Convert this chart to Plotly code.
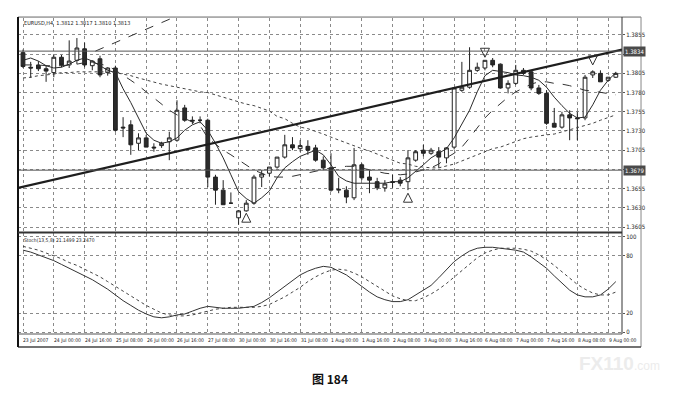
import plotly.graph_objects as go

bars = list(range(78))

open_ = [1.3832,1.3813,1.3816,1.3811,1.3806,1.3826,1.3816,1.3822,1.3837,1.3815,
         1.3824,1.3806,1.3812,1.3735,1.3738,1.3714,1.3721,1.3709,1.3711,1.3716,
         1.3718,1.3760,1.3744,1.3744,1.3744,1.3670,1.3653,1.3636,1.3617,1.3626,
         1.3636,1.3670,1.3675,1.3683,1.3696,1.3712,1.3707,1.3710,1.3708,1.3692,
         1.3682,1.3653,1.3653,1.3643,1.3686,1.3670,1.3664,1.3656,1.3664,1.3666,
         1.3664,1.3692,1.3705,1.3701,1.3703,1.3695,1.3709,1.3783,1.3787,1.3809,
         1.3812,1.3822,1.3817,1.3786,1.3792,1.3809,1.3807,1.3786,1.3779,1.3740,
         1.3735,1.3751,1.3747,1.3747,1.3803,1.3805,1.3796,1.3800]
high = [1.3836,1.3820,1.3821,1.3815,1.3829,1.3829,1.3848,1.3851,1.3845,1.3822,
        1.3828,1.3813,1.3815,1.3748,1.3744,1.3727,1.3725,1.3714,1.3716,1.3729,
        1.3770,1.3764,1.3749,1.3749,1.3746,1.3673,1.3666,1.3650,1.3627,1.3640,
        1.3673,1.3679,1.3683,1.3696,1.3725,1.3722,1.3718,1.3718,1.3712,1.3697,
        1.3701,1.3669,1.3658,1.3708,1.3688,1.3679,1.3669,1.3666,1.3673,1.3670,
        1.3705,1.3705,1.3712,1.3708,1.3709,1.3709,1.3787,1.3820,1.3839,1.3819,
        1.3822,1.3825,1.3818,1.3796,1.3816,1.3812,1.3809,1.3790,1.3783,1.3760,
        1.3755,1.3757,1.3755,1.3803,1.3809,1.3809,1.3800,1.3807]
low = [1.3812,1.3799,1.3808,1.3794,1.3800,1.3813,1.3812,1.3817,1.3813,1.3809,
       1.3800,1.3802,1.3729,1.3722,1.3699,1.3705,1.3709,1.3703,1.3708,1.3692,
       1.3716,1.3742,1.3739,1.3740,1.3657,1.3634,1.3634,1.3635,1.3608,1.3625,
       1.3634,1.3657,1.3671,1.3681,1.3694,1.3705,1.3703,1.3699,1.3690,1.3679,
       1.3651,1.3649,1.3636,1.3640,1.3666,1.3649,1.3653,1.3651,1.3656,1.3658,
       1.3653,1.3690,1.3697,1.3699,1.3682,1.3688,1.3706,1.3781,1.3785,1.3807,
       1.3809,1.3813,1.3785,1.3779,1.3790,1.3803,1.3783,1.3777,1.3738,1.3735,
       1.3733,1.3718,1.3718,1.3744,1.3799,1.3794,1.3794,1.3799]
close = [1.3814,1.3812,1.3811,1.3808,1.3826,1.3816,1.3821,1.3838,1.3816,1.3821,
         1.3803,1.3812,1.3731,1.3734,1.3712,1.3721,1.3709,1.3708,1.3714,1.3721,
         1.3757,1.3744,1.3743,1.3744,1.3670,1.3653,1.3634,1.3636,1.3626,1.3636,
         1.3670,1.3674,1.3683,1.3696,1.3712,1.3708,1.3711,1.3705,1.3692,1.3682,
         1.3653,1.3654,1.3644,1.3686,1.3669,1.3666,1.3656,1.3661,1.3663,1.3662,
         1.3695,1.3703,1.3701,1.3705,1.3696,1.3708,1.3786,1.3787,1.3809,1.3813,
         1.3822,1.3816,1.3786,1.3792,1.3809,1.3805,1.3786,1.3779,1.3740,1.3735,
         1.3751,1.3747,1.3746,1.3800,1.3807,1.3794,1.3800,1.3805]

ma_fast = [1.3822,1.3825,1.3821,1.3815,1.3812,1.3813,1.3817,1.3822,1.3825,1.3821,
           1.3815,1.3809,1.3806,1.3785,1.3767,1.3748,1.3727,1.3718,1.3714,1.3716,
           1.3721,1.3731,1.3738,1.3742,1.3731,1.3714,1.3695,1.3673,1.3651,1.3642,
           1.3636,1.3643,1.3652,1.3669,1.3682,1.3690,1.3697,1.3701,1.3705,1.3699,
           1.3686,1.3671,1.3665,1.3662,1.3662,1.3662,1.3662,1.3662,1.3664,1.3664,
           1.3669,1.3677,1.3686,1.3695,1.3701,1.3707,1.3721,1.3739,1.3757,1.3781,
           1.3802,1.3809,1.3807,1.3806,1.3803,1.3802,1.3800,1.3796,1.3787,1.3774,
           1.3763,1.3753,1.3747,1.3748,1.3764,1.3783,1.3796,1.3806]
ma_mid = [1.3816,1.3816,1.3816,1.3815,1.3815,1.3815,1.3816,1.3817,1.3819,1.3819,
          1.3817,1.3815,1.3809,1.3803,1.3796,1.3789,1.3781,1.3773,1.3764,1.3757,
          1.3751,1.3746,1.3742,1.3737,1.3721,1.3713,1.3705,1.3699,1.3692,1.3686,
          1.3679,1.3675,1.3671,1.3670,1.3670,1.3671,1.3673,1.3675,1.3677,1.3679,
          1.3682,1.3683,1.3684,1.3684,1.3682,1.3679,1.3677,1.3675,1.3674,1.3673,
          1.3674,1.3677,1.3679,1.3682,1.3687,1.3695,1.3701,1.3709,1.3721,1.3734,
          1.3747,1.3757,1.3766,1.3774,1.3781,1.3786,1.3791,1.3794,1.3794,1.3792,
          1.3791,1.3789,1.3786,1.3783,1.3782,1.3780,1.3778,1.3777]
ma_slow = [1.3799,1.3800,1.3802,1.3803,1.3804,1.3806,1.3806,1.3807,1.3807,1.3807,
           1.3807,1.3807,1.3806,1.3804,1.3802,1.3799,1.3796,1.3794,1.3791,1.3789,
           1.3787,1.3785,1.3783,1.3781,1.3780,1.3777,1.3774,1.3772,1.3768,1.3765,
           1.3763,1.3760,1.3756,1.3749,1.3746,1.3740,1.3735,1.3733,1.3730,1.3726,
           1.3722,1.3718,1.3714,1.3711,1.3707,1.3704,1.3700,1.3696,1.3692,1.3688,
           1.3687,1.3684,1.3683,1.3682,1.3682,1.3684,1.3687,1.3691,1.3695,1.3699,
           1.3703,1.3707,1.3709,1.3713,1.3717,1.3720,1.3722,1.3724,1.3725,1.3726,
           1.3729,1.3731,1.3734,1.3737,1.3740,1.3744,1.3747,1.3751]

stoch_main = [86,84,81,78,75,71,67,63,59,55, 50,45,39,33,28,23,19,16,15,16,
              18,19,22,25,27,26,25,25,25,26, 27,31,36,42,48,54,60,64,67,69,
              68,64,60,54,48,42,37,34,32,32, 34,39,44,49,57,66,74,80,85,88,
              89,89,88,87,86,84,79,73,67,59, 51,44,39,37,37,39,45,53]
stoch_signal = [90,88,86,83,80,77,73,70,66,62, 58,53,48,43,38,33,28,24,20,18,
                17,17,18,20,22,24,25,26,26,26, 26,27,29,33,37,42,47,53,58,62,
                65,66,65,62,58,53,48,43,38,35, 33,33,36,40,45,51,58,65,72,78,
                83,86,88,88,88,87,85,81,76,70, 63,56,50,45,41,39,39,42]

for arr in (open_, high, low, close, ma_fast, ma_mid, ma_slow, stoch_main, stoch_signal):
    assert len(arr) == 78, len(arr)

# drawn objects (data units: bar index, price)
trend_bars = [-0.65, 77.8]
trend_prices = [1.3656, 1.3836]
seg_bars = [9.4, 19.6]
seg_prices = [1.3834, 1.3878]
hline_prices = [1.3834, 1.3679]
hline_labels = ["1.3834", "1.3679"]
arrow_up_bars = [29, 50]
arrow_up_prices = [1.3623, 1.3649]
arrow_dn_bars = [60, 74]
arrow_dn_prices = [1.3826, 1.3816]

price_ticks = [1.3605, 1.3630, 1.3655, 1.3680, 1.3705, 1.3730, 1.3755, 1.3780, 1.3805, 1.3830, 1.3855]
price_tick_text = ["1.3605", "1.3630", "1.3655", "", "1.3705", "1.3730", "1.3755", "1.3780", "1.3805", "", "1.3855"]
stoch_ticks = [0, 20, 80, 100]

x_label_bars = list(range(0, 78, 4))
x_labels = ["23 Jul 2007", "24 Jul 00:00", "24 Jul 16:00", "25 Jul 08:00", "26 Jul 00:00",
            "26 Jul 16:00", "27 Jul 08:00", "30 Jul 00:00", "30 Jul 16:00", "31 Jul 08:00",
            "1 Aug 00:00", "1 Aug 16:00", "2 Aug 08:00", "3 Aug 00:00", "3 Aug 16:00",
            "6 Aug 08:00", "7 Aug 00:00", "7 Aug 16:00", "8 Aug 08:00", "9 Aug 00:00"]

INK = "#222222"
NARROW = "Liberation Sans Narrow, DejaVu Sans Condensed, Liberation Sans"
fig = go.Figure()

fig.add_trace(go.Candlestick(
    x=bars, open=open_, high=high, low=low, close=close, xaxis="x", yaxis="y",
    increasing=dict(line=dict(color=INK, width=1), fillcolor="#ffffff"),
    decreasing=dict(line=dict(color=INK, width=1), fillcolor="#2b2b2b"),
    whiskerwidth=0, showlegend=False, hoverinfo="skip"))

fig.add_trace(go.Scatter(x=bars, y=ma_slow, mode="lines", line=dict(color="#444", width=1, dash="dot"),
                         showlegend=False, hoverinfo="skip"))
fig.add_trace(go.Scatter(x=bars, y=ma_mid, mode="lines", line=dict(color="#333", width=1, dash="dash"),
                         showlegend=False, hoverinfo="skip"))
fig.add_trace(go.Scatter(x=bars, y=ma_fast, mode="lines", line=dict(color="#2a2a2a", width=1),
                         showlegend=False, hoverinfo="skip"))
fig.add_trace(go.Scatter(x=trend_bars, y=trend_prices, mode="lines", line=dict(color="#1e1e1e", width=2.2),
                         showlegend=False, hoverinfo="skip"))
fig.add_trace(go.Scatter(x=seg_bars, y=seg_prices, mode="lines", line=dict(color="#333", width=1, dash="dash"),
                         showlegend=False, hoverinfo="skip"))
fig.add_trace(go.Scatter(x=arrow_up_bars, y=arrow_up_prices, mode="markers",
                         marker=dict(symbol="arrow-up-open", size=9, color="#333", line=dict(color="#333", width=1)),
                         showlegend=False, hoverinfo="skip"))
fig.add_trace(go.Scatter(x=arrow_dn_bars, y=arrow_dn_prices, mode="markers",
                         marker=dict(symbol="arrow-down-open", size=9, color="#333", line=dict(color="#333", width=1)),
                         showlegend=False, hoverinfo="skip"))

fig.add_trace(go.Scatter(x=bars, y=stoch_signal, mode="lines", yaxis="y2",
                         line=dict(color="#444", width=1, dash="dot"), showlegend=False, hoverinfo="skip"))
fig.add_trace(go.Scatter(x=bars, y=stoch_main, mode="lines", yaxis="y2",
                         line=dict(color="#333", width=1), showlegend=False, hoverinfo="skip"))

tickfont = dict(family=NARROW, size=6, color="#222")
# page body has an 8px default margin, so the figure is 8px smaller and margins 8px less
fig.update_layout(
    width=670, height=398,
    margin=dict(l=10, r=56, t=10, b=72),
    paper_bgcolor="white", plot_bgcolor="white",
    showlegend=False,
    xaxis=dict(range=[-0.65, 77.8], tickvals=x_label_bars, showticklabels=False, ticks="",
               showgrid=True, gridcolor="#8a8a8a", griddash="dot", gridwidth=1,
               zeroline=False, rangeslider=dict(visible=False), anchor="y2", showline=False),
    yaxis=dict(domain=[0.3228, 1], range=[1.35985, 1.38771], side="right", anchor="x",
               tickvals=price_ticks, ticktext=price_tick_text, tickfont=tickfont,
               ticks="outside", ticklen=2, tickcolor="#555",
               showgrid=True, gridcolor="#8a8a8a", griddash="dot", gridwidth=1,
               zeroline=False, showline=False),
    yaxis2=dict(domain=[0, 0.3196], range=[-2, 104], side="right", anchor="x",
                tickvals=stoch_ticks, tickfont=tickfont, ticks="outside", ticklen=2, tickcolor="#555",
                showgrid=True, gridcolor="#8a8a8a", griddash="dot", gridwidth=1,
                zeroline=False, showline=False),
)

shapes = []
for p in hline_prices:
    shapes.append(dict(type="line", xref="paper", yref="y", x0=0, x1=1, y0=p, y1=p,
                       line=dict(color="#555", width=1)))
shapes += [
    dict(type="line", xref="paper", yref="paper", x0=0, x1=1.0315, y0=1.003, y1=1.003, line=dict(color="#666", width=1)),
    dict(type="line", xref="paper", yref="paper", x0=1.0315, x1=1.0315, y0=-0.041, y1=1.003, line=dict(color="#888", width=1)),
    dict(type="line", xref="paper", yref="paper", x0=0, x1=1.0315, y0=-0.041, y1=-0.041, line=dict(color="#444", width=1.5)),
    dict(type="line", xref="paper", yref="paper", x0=0, x1=0, y0=-0.041, y1=1.003, line=dict(color="#111", width=2)),
    dict(type="line", xref="paper", yref="paper", x0=1, x1=1, y0=0, y1=1.003, line=dict(color="#333", width=1)),
    dict(type="line", xref="paper", yref="paper", x0=0, x1=1, y0=0.3212, y1=0.3212, line=dict(color="#333", width=2)),
    dict(type="line", xref="paper", yref="paper", x0=0, x1=1, y0=0, y1=0, line=dict(color="#555", width=1)),
]
fig.update_layout(shapes=shapes)

ann = []
for p, t in zip(hline_prices, hline_labels):
    ann.append(dict(xref="paper", yref="y", x=1.002, y=p, text=t, showarrow=False, xanchor="left",
                    yanchor="middle", bgcolor="#4a4a4a", borderpad=1,
                    font=dict(family=NARROW, size=6, color="white")))
for b, t in zip(x_label_bars, x_labels):
    ann.append(dict(xref="x", yref="paper", x=b - 0.2, y=-0.019, text=t, showarrow=False, xanchor="left",
                    yanchor="middle", font=dict(family=NARROW, size=5, color="#222")))
ann.append(dict(xref="paper", yref="paper", x=0.006, y=0.983, text="EURUSD,H4  1.3812 1.3817 1.3810 1.3813",
                showarrow=False, xanchor="left", yanchor="middle",
                font=dict(family=NARROW, size=5.5, color="#222")))
ann.append(dict(xref="paper", yref="paper", x=0.006, y=0.297, text="Stoch(13,5,8) 21.1499 23.2470",
                showarrow=False, xanchor="left", yanchor="middle",
                font=dict(family=NARROW, size=5, color="#222")))
ann.append(dict(xref="paper", yref="paper", x=0.517, y=-0.142, text="<b>图 184</b>",
                showarrow=False, xanchor="center", yanchor="middle",
                font=dict(family="Noto Sans CJK SC", size=12, color="#111")))
ann.append(dict(xref="paper", yref="paper", x=0.925, y=-0.092,
                text="<b>FX110</b><span style='font-size:12px'>.com</span>",
                showarrow=False, xanchor="left", yanchor="middle",
                font=dict(family="Liberation Sans", size=19, color="#ececec")))
fig.update_layout(annotations=ann)

fig.write_html("out.html")
